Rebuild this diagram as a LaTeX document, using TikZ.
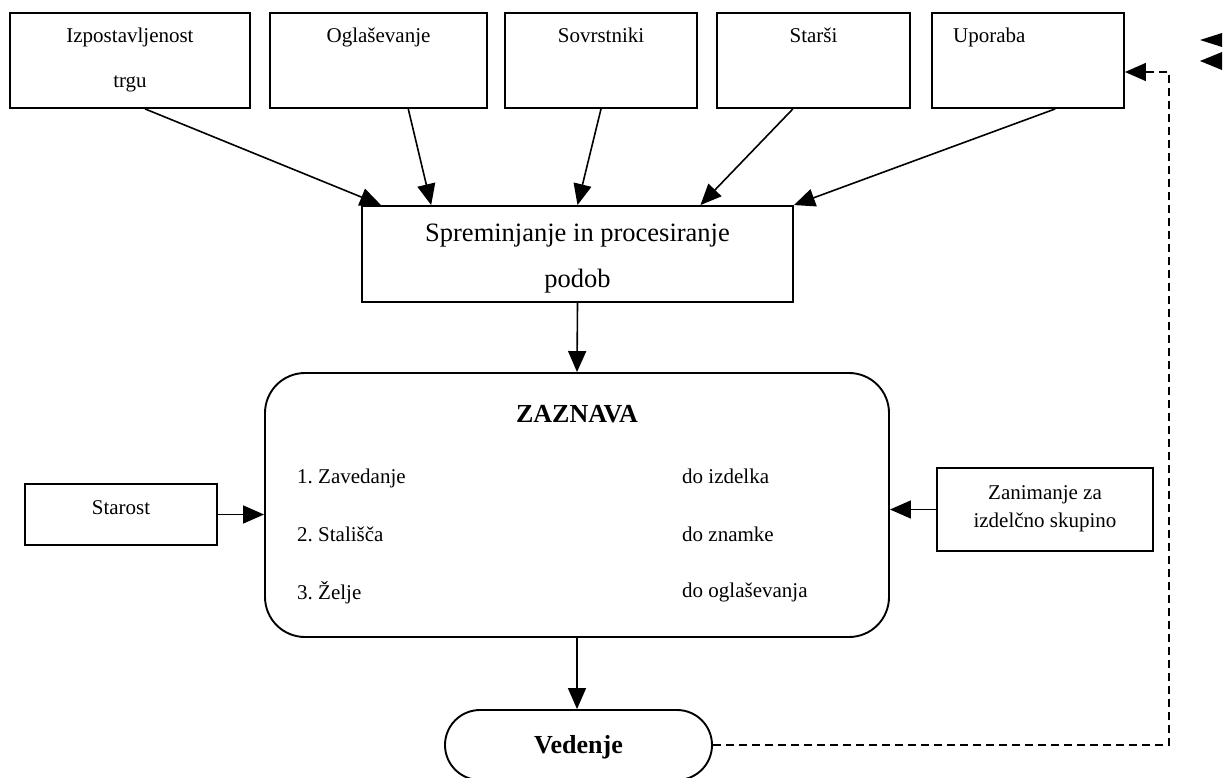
\documentclass[tikz,border=0pt]{standalone}
\usepackage{fontspec}
\setmainfont{Liberation Serif}
\usetikzlibrary{arrows.meta,calc}
\begin{document}
\begin{tikzpicture}[x=1pt,y=-1pt,
  box/.style={draw,line width=1.9pt,rectangle,inner sep=0pt},
  lbl/.style={font=\fontsize{21}{25}\selectfont,anchor=base,inner sep=0pt},
  lblw/.style={lbl,anchor=base west},
  big/.style={font=\fontsize{26.5}{30}\selectfont,anchor=base,inner sep=0pt},
  title/.style={font=\fontsize{26}{30}\selectfont\bfseries,anchor=base,inner sep=0pt},
  arr/.style={-{Triangle[length=21pt,width=18pt]},line width=1.6pt},
  darr/.style={arr,dash pattern=on 8pt off 5pt}]
\useasboundingbox (0,0) rectangle (1230,778);

% influences along the top
\node[box,minimum width=240pt,minimum height=95pt] (b1) at (130,60.5) {};
\node[box,minimum width=217pt,minimum height=95pt] (b2) at (378.5,60.5) {};
\node[box,minimum width=192pt,minimum height=95pt] (b3) at (601,60.5) {};
\node[box,minimum width=193pt,minimum height=95pt] (b4) at (813.5,60.5) {};
\node[box,minimum width=192pt,minimum height=95pt] (b5) at (1028,60.5) {};
\node[lbl] (t1a) at (130,43) {Izpostavljenost};
\node[lbl] (t1b) at (130,88) {trgu};
\node[lbl] (t2) at (378.5,43) {Oglaševanje};
\node[lbl] (t3) at (601,43) {Sovrstniki};
\node[lbl] (t4) at (813.5,43) {Starši};
\node[lblw] (t5) at (953,43) {Uporaba};

% image processing
\node[box,minimum width=431pt,minimum height=96pt] (sp) at (577.5,254) {};
\node[big] (sp1) at (577.5,241) {Spreminjanje in procesiranje};
\node[big] (sp2) at (577.5,287) {podob};

% perception
\node[box,rounded corners=40pt,minimum width=624pt,minimum height=264pt] (za) at (577,505) {};
\node[title] (zat) at (577,422) {ZAZNAVA};
\node[lblw] (i1) at (297,483) {1.\ Zavedanje};
\node[lblw] (i2) at (297,541) {2.\ Stališča};
\node[lblw] (i3) at (297,599) {3.\ Želje};
\node[lblw] (j1) at (682,483) {do izdelka};
\node[lblw] (j2) at (682,541) {do znamke};
\node[lblw] (j3) at (682,597) {do oglaševanja};

% side factors
\node[box,minimum width=192pt,minimum height=61pt] (st) at (121,514.5) {};
\node[lbl] (stt) at (121,514) {Starost};
\node[box,minimum width=216pt,minimum height=83pt] (zi) at (1045,509.5) {};
\node[lbl] (zi1) at (1045,499) {Zanimanje za};
\node[lbl] (zi2) at (1045,527) {izdelčno skupino};

% behaviour
\node[box,rounded corners=35pt,minimum width=267pt,minimum height=70pt] (ve) at (578.5,745) {};
\node[title] (vet) at (578.5,753) {Vedenje};

% connectors
\draw[arr] ($(b1.south west)!0.5625!(b1.south east)$) -- ($(sp.north west)!0.046!(sp.north east)$);
\draw[arr] ($(b2.south west)!0.636!(b2.south east)$) -- ($(sp.north west)!0.162!(sp.north east)$);
\draw[arr] (b3.south) -- (sp.north);
\draw[arr] ($(b4.south west)!0.394!(b4.south east)$) -- ($(sp.north west)!0.784!(sp.north east)$);
\draw[arr] ($(b5.south west)!0.64!(b5.south east)$) -- (sp.north east);
\draw[arr] (sp.south) -- (za.north);
\draw[arr] (st.east) -- (st.east -| za.west);
\draw[arr] (zi.west) -- (zi.west -| za.east);
\draw[arr] (za.south) -- (za.south |- ve.north);

% feedback loop
\coordinate (d1) at (1169,745);
\coordinate (d2) at (1169,72);
\draw[darr] (ve.east) -- (d1) -- (d2) -- (d2 -| b5.east);

% loose arrow tips
\fill (1200,40) -- (1222,33) -- (1222,47) -- cycle;
\fill (1200,61) -- (1222,52) -- (1222,70) -- cycle;
\end{tikzpicture}
\end{document}
